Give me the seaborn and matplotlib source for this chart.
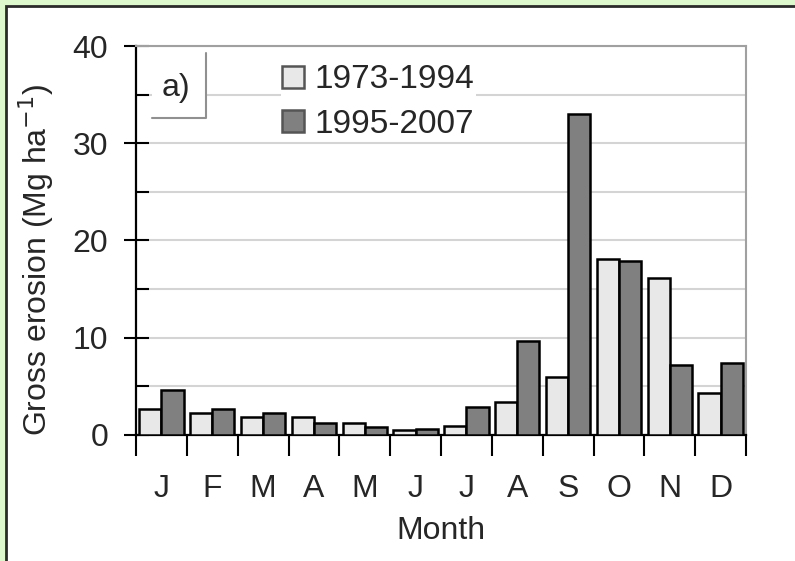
import matplotlib
matplotlib.use('Agg')
import matplotlib.pyplot as plt
import numpy as np
import pandas as pd
import seaborn as sns
from matplotlib.patches import Rectangle
from matplotlib.lines import Line2D

months = ['J', 'F', 'M', 'A', 'M', 'J', 'J', 'A', 'S', 'O', 'N', 'D']
period_a = [2.65, 2.3, 1.8, 1.8, 1.2, 0.55, 0.9, 3.4, 6.0, 18.1, 16.1, 4.3]
period_b = [4.6, 2.65, 2.3, 1.2, 0.85, 0.6, 2.9, 9.7, 33.0, 17.9, 7.2, 7.4]
periods = ['1973-1994', '1995-2007']

df = pd.DataFrame({
    'month_idx': list(range(12)) * 2,
    'erosion': period_a + period_b,
    'period': [periods[0]] * 12 + [periods[1]] * 12,
})

sns.set_style('white')
plt.rcParams['font.family'] = ['Liberation Sans', 'DejaVu Sans']

fig = plt.figure(figsize=(7.95, 5.61), dpi=100)
fig.patch.set_facecolor('#dcf8cc')
fig.patches.append(Rectangle((6 / 795, -0.02), 1.1, 1 - 5.5 / 561 + 0.02,
                             transform=fig.transFigure, facecolor='white',
                             edgecolor='#2a2a2a', lw=2, zorder=-10))

ax = fig.add_axes([136 / 795, 1 - 435 / 561, 610 / 795, 389 / 561])
sns.barplot(data=df, x='month_idx', y='erosion', hue='period',
            palette=['#e8e8e8', '#808080'], width=0.87, gap=0,
            edgecolor='black', linewidth=1.8, saturation=1, ax=ax, zorder=3)

ax.set_ylim(0, 40)
ax.set_xlim(-0.5, 11.5)
ax.set_yticks([0, 10, 20, 30, 40])
ax.set_yticks([5, 15, 25, 35], minor=True)
ax.yaxis.grid(True, which='both', color='#d4d4d4', lw=1.5, zorder=0)
ax.set_axisbelow(True)
ax.tick_params(axis='y', which='major', direction='inout', length=18, width=1.5,
               color='black', labelsize=23, pad=11, left=True)
ax.tick_params(axis='y', which='minor', direction='in', length=9, width=1.5,
               color='black', left=True)

ax.set_xticks(range(12))
ax.set_xticklabels(months)
ax.set_xticks(np.arange(-0.5, 12, 1), minor=True)
ax.tick_params(axis='x', which='major', length=0, labelsize=23, pad=28)
ax.tick_params(axis='x', which='minor', direction='out', length=15, width=1.5,
               color='black', bottom=True)

for s in ['left', 'bottom']:
    ax.spines[s].set_color('black')
    ax.spines[s].set_linewidth(1.6)
for s in ['top', 'right']:
    ax.spines[s].set_color('#a0a0a0')
    ax.spines[s].set_linewidth(1.5)

ax.set_xlabel('Month', fontsize=23, labelpad=9)
ax.set_ylabel('Gross erosion (Mg ha$^{-1}$)', fontsize=23, labelpad=12)
ax.yaxis.label.set_y(0.45)

leg = ax.legend(loc='upper left', bbox_to_anchor=(0.21, 1.0), fontsize=24,
                frameon=True, fancybox=False, framealpha=1, edgecolor='none',
                facecolor='white', handlelength=0.65, handleheight=0.65,
                handletextpad=0.3, labelspacing=0.4, borderpad=0.05)
for h in leg.get_patches():
    h.set_edgecolor('#555555')
leg.set_zorder(5)

# "a)" panel label box with right and bottom edges only
ax.add_patch(Rectangle((0.026, 0.815), 0.089, 0.167, transform=ax.transAxes,
                       facecolor='white', edgecolor='none', zorder=4))
ax.add_line(Line2D([0.026, 0.115, 0.115], [0.815, 0.815, 0.982],
                   transform=ax.transAxes, color='#909090', lw=1.5, zorder=5))
ax.text(0.066, 0.893, 'a)', transform=ax.transAxes, fontsize=23,
        ha='center', va='center', zorder=6)

fig.savefig('out.png', dpi=100, facecolor=fig.get_facecolor())
